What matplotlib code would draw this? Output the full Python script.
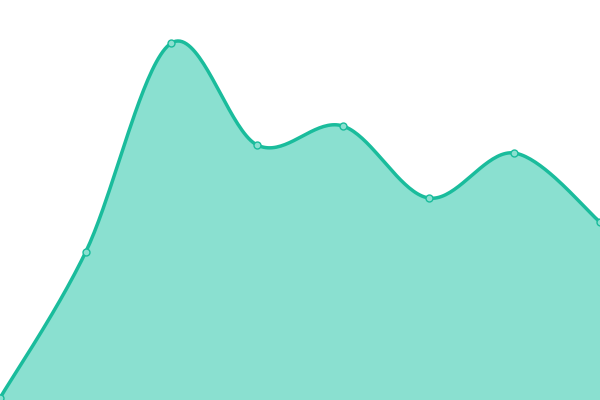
import numpy as np
import matplotlib
matplotlib.use('Agg')
import matplotlib.pyplot as plt

# values (pixel height above the bottom edge)
x_vals = [0, 1, 2, 3, 4, 5, 6, 7]
y_vals = [2, 148, 357, 255, 274, 202, 247, 178]

line_color = '#1abc9c'
fill_color = '#8ae0d0'


def catmull_rom(x, y, steps=40):
    # cardinal spline through the points, end points repeated
    x = np.asarray(x, dtype=float)
    y = np.asarray(y, dtype=float)
    px = np.concatenate([[x[0]], x, [x[-1]]])
    py = np.concatenate([[y[0]], y, [y[-1]]])
    xs, ys = [], []
    for i in range(1, len(px) - 2):
        t = np.linspace(0, 1, steps, endpoint=False)
        mx0 = (px[i + 1] - px[i - 1]) / 2
        mx1 = (px[i + 2] - px[i]) / 2
        my0 = (py[i + 1] - py[i - 1]) / 2
        my1 = (py[i + 2] - py[i]) / 2
        h00 = 2 * t**3 - 3 * t**2 + 1
        h10 = t**3 - 2 * t**2 + t
        h01 = -2 * t**3 + 3 * t**2
        h11 = t**3 - t**2
        xs.append(h00 * px[i] + h10 * mx0 + h01 * px[i + 1] + h11 * mx1)
        ys.append(h00 * py[i] + h10 * my0 + h01 * py[i + 1] + h11 * my1)
    xs.append([x[-1]])
    ys.append([y[-1]])
    return np.concatenate(xs), np.concatenate(ys)


sx, sy = catmull_rom(x_vals, y_vals)

fig = plt.figure(figsize=(6, 4), dpi=100)
ax = fig.add_axes([0, 0, 1, 1])
ax.fill_between(sx, 0, sy, color=fill_color, linewidth=0)
ax.plot(sx, sy, color=line_color, linewidth=2.5, solid_capstyle='round')
ax.plot(x_vals, y_vals, 'o', markersize=5, markerfacecolor=fill_color,
        markeredgecolor=line_color, markeredgewidth=1)
ax.set_xlim(0, 7)
ax.set_ylim(0, 400)
ax.axis('off')

fig.savefig('out.png', dpi=100)
